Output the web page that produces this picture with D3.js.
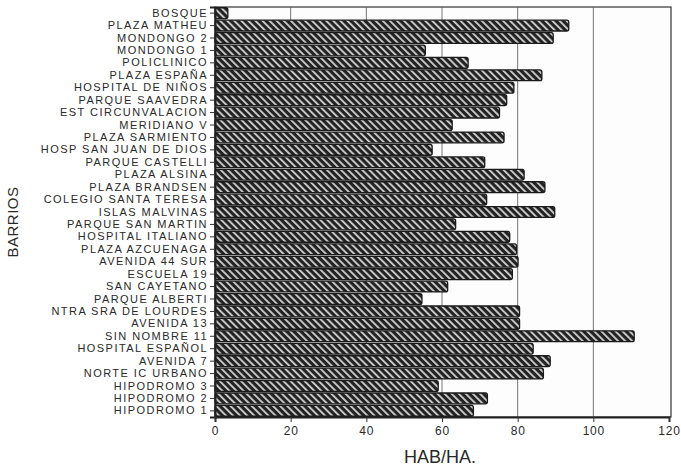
<!DOCTYPE html>
<html>
<head>
<meta charset="utf-8">
<script src="https://cdn.jsdelivr.net/npm/d3@7"></script>
<style>
  html, body { margin: 0; padding: 0; background: #fff; }
  svg { display: block; }
  text { font-family: "Liberation Sans", Arial, sans-serif; fill: #2a2a2a; }
</style>
</head>
<body>
<svg id="chart" width="681" height="468"></svg>
<script>
const categories = [
  "BOSQUE", "PLAZA MATHEU", "MONDONGO 2", "MONDONGO 1", "POLICLINICO",
  "PLAZA ESPAÑA", "HOSPITAL DE NIÑOS", "PARQUE SAAVEDRA", "EST CIRCUNVALACION",
  "MERIDIANO V", "PLAZA SARMIENTO", "HOSP SAN JUAN DE DIOS", "PARQUE CASTELLI",
  "PLAZA ALSINA", "PLAZA BRANDSEN", "COLEGIO SANTA TERESA", "ISLAS MALVINAS",
  "PARQUE SAN MARTIN", "HOSPITAL ITALIANO", "PLAZA AZCUENAGA", "AVENIDA 44 SUR",
  "ESCUELA 19", "SAN CAYETANO", "PARQUE ALBERTI", "NTRA SRA DE LOURDES",
  "AVENIDA 13", "SIN NOMBRE 11", "HOSPITAL ESPAÑOL", "AVENIDA 7",
  "NORTE IC URBANO", "HIPODROMO 3", "HIPODROMO 2", "HIPODROMO 1"
];
const values = [
  3.4, 93.5, 89.4, 55.6, 66.9,
  86.4, 79.0, 77.1, 75.2,
  62.7, 76.4, 57.4, 71.3,
  81.7, 87.2, 71.8, 89.8,
  63.6, 77.9, 79.7, 80.1,
  78.6, 61.5, 54.7, 80.5,
  80.5, 110.8, 84.1, 88.6,
  86.8, 59.0, 72.0, 68.3
];
const xTicks = [0, 20, 40, 60, 80, 100, 120];
const xTitle = "HAB/HA.";
const yTitle = "BARRIOS";

const svg = d3.select("#chart");
const mLeft = 215, mRight = 669, mTop = 7, mBottom = 417;

const x = d3.scaleLinear().domain([0, 120]).range([mLeft, mRight]);
const y = d3.scaleBand().domain(categories).range([mTop, mBottom])
  .paddingInner(0.13).paddingOuter(0.06);

// hatch pattern
const defs = svg.append("defs");
const pw = 5;
const pat = defs.append("pattern")
  .attr("id", "hatch").attr("patternUnits", "userSpaceOnUse")
  .attr("width", pw).attr("height", pw)
  .attr("patternTransform", "rotate(-45)");
pat.append("rect").attr("width", pw).attr("height", pw).attr("fill", "#222");
pat.append("rect").attr("x", 0).attr("width", 1.8).attr("height", pw).attr("fill", "#d4d4d4");

// frame
svg.append("rect").attr("x", mLeft).attr("y", mTop)
  .attr("width", mRight - mLeft + 2).attr("height", mBottom - mTop)
  .attr("fill", "#fdfdfd").attr("stroke", "#333").attr("stroke-width", 1.2);

// gridlines
svg.append("g").selectAll("line").data(xTicks.filter(d => d > 0 && d < 120))
  .join("line")
  .attr("x1", d => x(d)).attr("x2", d => x(d))
  .attr("y1", mTop).attr("y2", mBottom)
  .attr("stroke", "#666").attr("stroke-width", 0.9);

// bars
svg.append("g").selectAll("rect").data(categories)
  .join("rect")
  .attr("x", x(0))
  .attr("y", d => y(d))
  .attr("width", (d, i) => x(values[i]) - x(0))
  .attr("height", y.bandwidth())
  .attr("rx", 2)
  .attr("fill", "url(#hatch)")
  .attr("stroke", "#1a1a1a").attr("stroke-width", 1.3);

// y axis
const yAxis = d3.axisLeft(y).tickSize(5).tickPadding(2);
const gy = svg.append("g").attr("transform", `translate(${mLeft},0)`).call(yAxis);
gy.select(".domain").attr("stroke", "#222").attr("stroke-width", 2);
gy.selectAll(".tick line").attr("stroke", "#333");
gy.selectAll(".tick text")
  .attr("font-size", 11).attr("letter-spacing", 1.45)
  .style("font-family", "'Liberation Sans', Arial, sans-serif")
  .attr("fill", "#2a2a2a");

// x axis
const xAxis = d3.axisBottom(x).tickValues(xTicks).tickSize(5).tickPadding(4)
  .tickFormat(d3.format("d"));
const gx = svg.append("g").attr("transform", `translate(0,${mBottom})`).call(xAxis);
gx.select(".domain").attr("stroke", "#222").attr("stroke-width", 2);
gx.selectAll(".tick line").attr("stroke", "#333");
gx.selectAll(".tick text")
  .attr("font-size", 12).attr("letter-spacing", 0.8)
  .style("font-family", "'Liberation Sans', Arial, sans-serif")
  .attr("fill", "#333");

// titles
svg.append("text").attr("x", 440).attr("y", 463)
  .attr("text-anchor", "middle").attr("font-size", 18)
  .text(xTitle);
svg.append("text")
  .attr("transform", "translate(18,222) rotate(-90)")
  .attr("text-anchor", "middle").attr("font-size", 15).attr("letter-spacing", 0.5)
  .text(yTitle);
</script>
</body>
</html>
